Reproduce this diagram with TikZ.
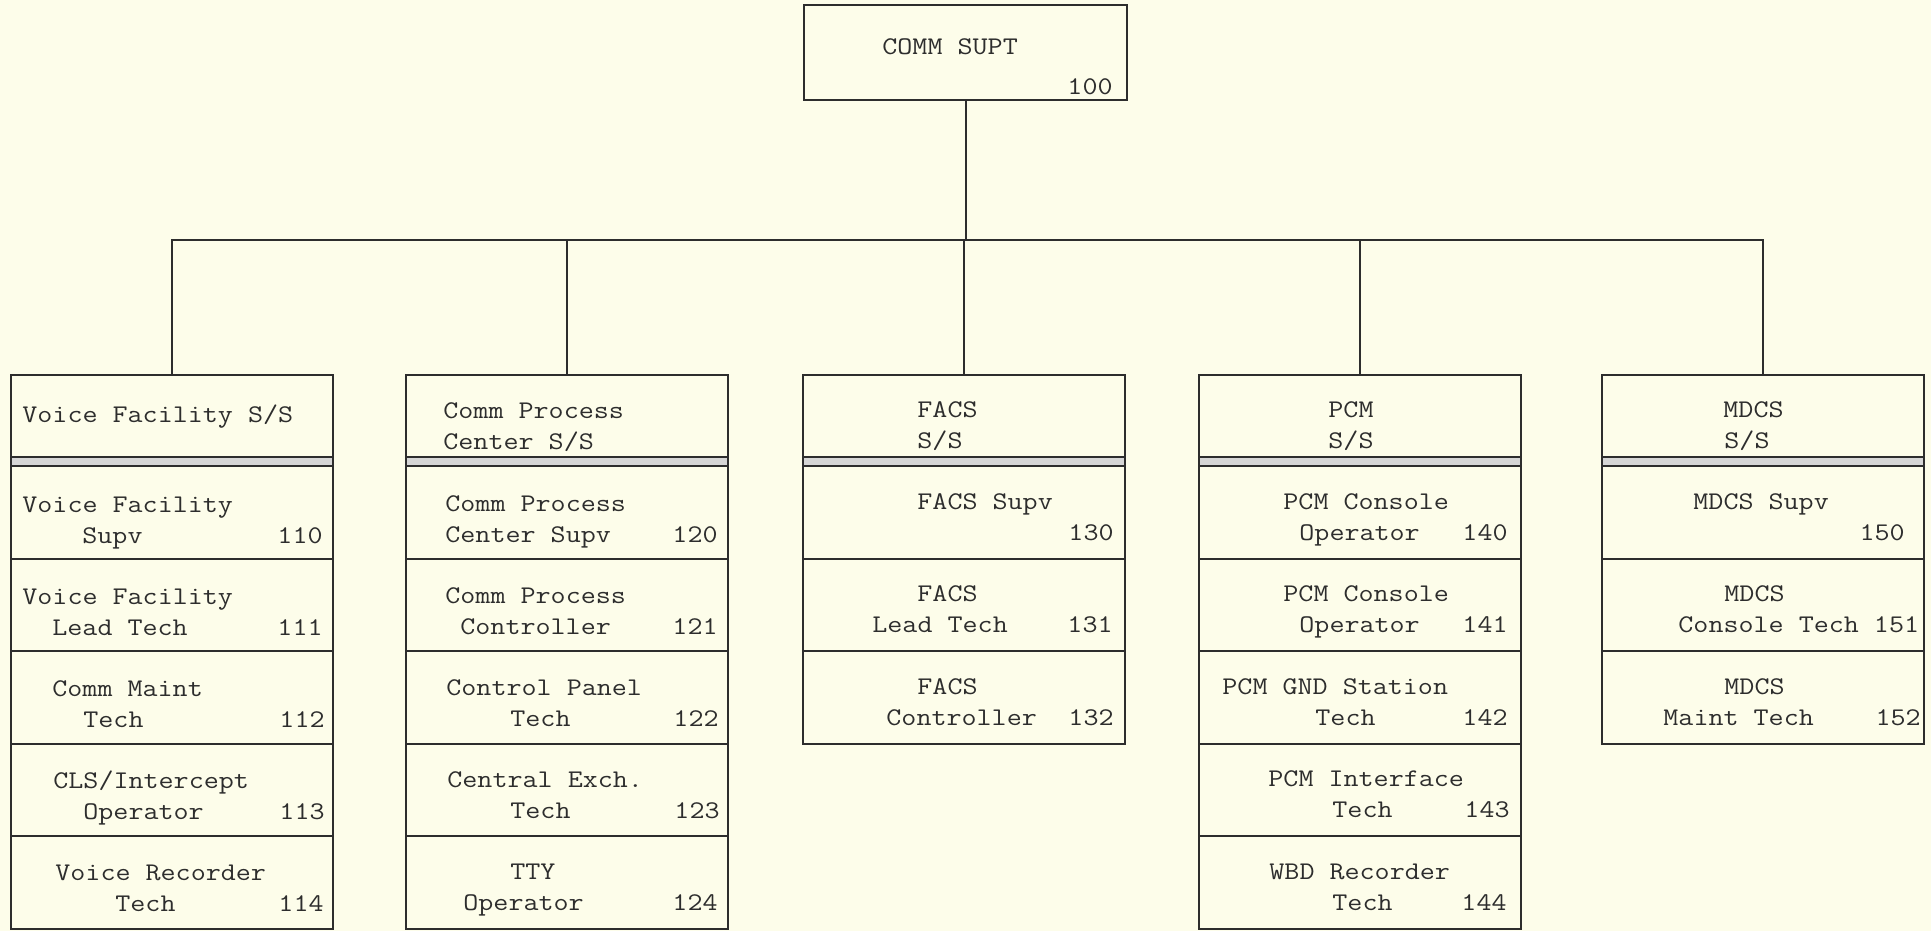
\documentclass[tikz,border=0pt]{standalone}
\usepackage{fontspec}
\setmonofont{Latin Modern Mono}[FakeStretch=1.15]
\definecolor{bg}{RGB}{253,253,234}
\definecolor{ink}{RGB}{45,45,45}
\begin{document}
\begin{tikzpicture}[x=0.5pt,y=-0.5pt,
  box/.style={draw=ink,line width=1pt,inner sep=0pt,outer sep=0pt,anchor=north west,minimum width=161pt},
  hdr/.style={box,minimum height=41pt},
  rowbox/.style={box,minimum height=46.25pt},
  band/.style={box,minimum height=4.5pt,fill=black!16},
  lt/.style={font=\ttfamily\fontsize{12.7}{15}\selectfont,text=ink,inner sep=0pt,anchor=base west},
  rt/.style={lt,anchor=base east},
  wire/.style={draw=ink,line width=1pt}]
\fill[bg] (0,0) rectangle (1931,931);
\useasboundingbox (0,0) rectangle (1931,931);

% top box
\node[box,minimum width=161.5pt,minimum height=47.5pt] (top) at (804,5) {};
\node[lt] (ttop) at (882,55) {COMM SUPT};
\node[rt] (ntop) at (1113,95) {100};

% headers
\node[hdr] (h1) at (11,375) {};
\node[hdr] (h2) at (406,375) {};
\node[hdr] (h3) at (803,375) {};
\node[hdr] (h4) at (1199,375) {};
\node[hdr] (h5) at (1602,375) {};
\node[band] (b1) at (11,457) {};
\node[band] (b2) at (406,457) {};
\node[band] (b3) at (803,457) {};
\node[band] (b4) at (1199,457) {};
\node[band] (b5) at (1602,457) {};

% connectors
\coordinate (bus) at (172,240);
\draw[wire] (top.south) -- (top.south |- bus);
\draw[wire] (h1.north) |- (h5.north |- bus) -- (h5.north);
\draw[wire] (h2.north) -- (h2.north |- bus);
\draw[wire] (h3.north) -- (h3.north |- bus);
\draw[wire] (h4.north) -- (h4.north |- bus);

% column 1
\node[rowbox] (r110) at (11,466) {};
\node[rowbox] (r111) at (11,558.5) {};
\node[rowbox] (r112) at (11,651) {};
\node[rowbox] (r113) at (11,743.5) {};
\node[rowbox] (r114) at (11,836) {};
\node[lt] (h1a) at (22,422) {Voice Facility S/S};
\node[lt] (a110) at (22,512) {Voice Facility};
\node[lt] (b110) at (82,543) {Supv};
\node[rt] (n110) at (323,543) {110};
\node[lt] (a111) at (22,604) {Voice Facility};
\node[lt] (b111) at (52,635) {Lead Tech};
\node[rt] (n111) at (323,635) {111};
\node[lt] (a112) at (52,696) {Comm Maint};
\node[lt] (b112) at (83,727) {Tech};
\node[rt] (n112) at (325,727) {112};
\node[lt] (a113) at (53,788) {CLS/Intercept};
\node[lt] (b113) at (83,819) {Operator};
\node[rt] (n113) at (325,819) {113};
\node[lt] (a114) at (55,880) {Voice Recorder};
\node[lt] (b114) at (115,911) {Tech};
\node[rt] (n114) at (324,911) {114};

% column 2
\node[rowbox] (r120) at (406,466) {};
\node[rowbox] (r121) at (406,558.5) {};
\node[rowbox] (r122) at (406,651) {};
\node[rowbox] (r123) at (406,743.5) {};
\node[rowbox] (r124) at (406,836) {};
\node[lt] (h2a) at (443,418) {Comm Process};
\node[lt] (h2b) at (443,449) {Center S/S};
\node[lt] (a120) at (445,511) {Comm Process};
\node[lt] (b120) at (445,542) {Center Supv};
\node[rt] (n120) at (718,542) {120};
\node[lt] (a121) at (445,603) {Comm Process};
\node[lt] (b121) at (460,634) {Controller};
\node[rt] (n121) at (718,634) {121};
\node[lt] (a122) at (446,695) {Control Panel};
\node[lt] (b122) at (510,726) {Tech};
\node[rt] (n122) at (719,726) {122};
\node[lt] (a123) at (447,787.5) {Central Exch.};
\node[lt] (b123) at (510,818.5) {Tech};
\node[rt] (n123) at (720,818.5) {123};
\node[lt] (a124) at (510,879) {TTY};
\node[lt] (b124) at (463,910) {Operator};
\node[rt] (n124) at (718,910) {124};

% column 3
\node[rowbox] (r130) at (803,466) {};
\node[rowbox] (r131) at (803,558.5) {};
\node[rowbox] (r132) at (803,651) {};
\node[lt] (h3a) at (917,417) {FACS};
\node[lt] (h3b) at (917,448) {S/S};
\node[lt] (a130) at (917,509) {FACS Supv};
\node[rt] (n130) at (1114,540) {130};
\node[lt] (a131) at (917,601.5) {FACS};
\node[lt] (b131) at (872,632.5) {Lead Tech};
\node[rt] (n131) at (1113,632.5) {131};
\node[lt] (a132) at (917,694) {FACS};
\node[lt] (b132) at (886,725) {Controller};
\node[rt] (n132) at (1114,725) {132};

% column 4
\node[rowbox] (r140) at (1199,466) {};
\node[rowbox] (r141) at (1199,558.5) {};
\node[rowbox] (r142) at (1199,651) {};
\node[rowbox] (r143) at (1199,743.5) {};
\node[rowbox] (r144) at (1199,836) {};
\node[lt] (h4a) at (1328,417) {PCM};
\node[lt] (h4b) at (1328,448) {S/S};
\node[lt] (a140) at (1283,509) {PCM Console};
\node[lt] (b140) at (1299,540) {Operator};
\node[rt] (n140) at (1508,540) {140};
\node[lt] (a141) at (1283,601.5) {PCM Console};
\node[lt] (b141) at (1299,632.5) {Operator};
\node[rt] (n141) at (1508,632.5) {141};
\node[lt] (a142) at (1222,694) {PCM GND Station};
\node[lt] (b142) at (1315,725) {Tech};
\node[rt] (n142) at (1508,725) {142};
\node[lt] (a143) at (1268,786.5) {PCM Interface};
\node[lt] (b143) at (1332,817.5) {Tech};
\node[rt] (n143) at (1510,817.5) {143};
\node[lt] (a144) at (1269,879) {WBD Recorder};
\node[lt] (b144) at (1332,910) {Tech};
\node[rt] (n144) at (1507,910) {144};

% column 5
\node[rowbox] (r150) at (1602,466) {};
\node[rowbox] (r151) at (1602,558.5) {};
\node[rowbox] (r152) at (1602,651) {};
\node[lt] (h5a) at (1723,417) {MDCS};
\node[lt] (h5b) at (1724,448) {S/S};
\node[lt] (a150) at (1693,509) {MDCS Supv};
\node[rt] (n150) at (1905,540) {150};
\node[lt] (a151) at (1724,601.5) {MDCS};
\node[lt] (b151) at (1678,632.5) {Console Tech 151};
\node[lt] (a152) at (1724,694) {MDCS};
\node[lt] (b152) at (1663,725) {Maint Tech};
\node[rt] (n152) at (1921,725) {152};
\end{tikzpicture}
\end{document}
